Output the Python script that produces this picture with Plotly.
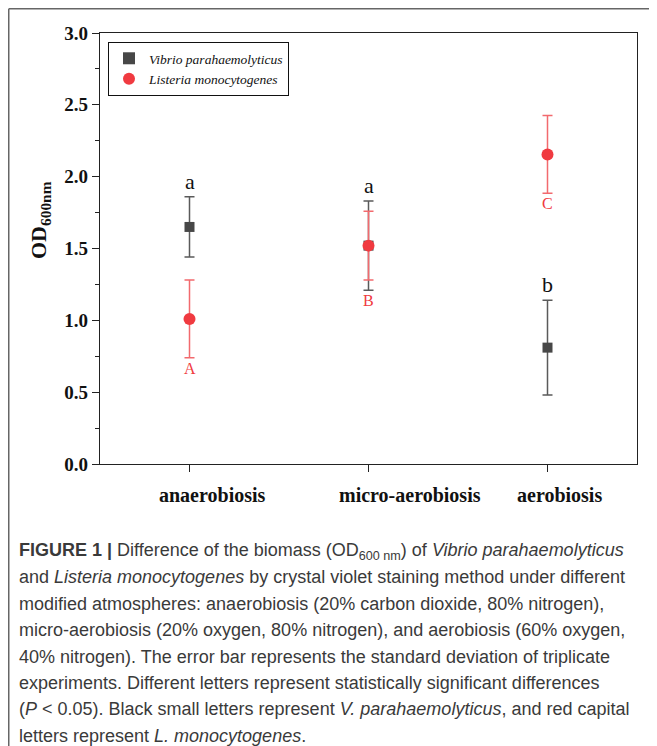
import plotly.graph_objects as go

categories = ["anaerobiosis", "micro-aerobiosis", "aerobiosis"]
vibrio_mean = [1.65, 1.52, 0.81]
vibrio_sd = [0.21, 0.31, 0.33]
listeria_mean = [1.01, 1.52, 2.155]
listeria_sd = [0.27, 0.24, 0.27]
vibrio_letters = ["a", "a", "b"]
listeria_letters = ["A", "B", "C"]
y_ticks = [0.0, 0.5, 1.0, 1.5, 2.0, 2.5, 3.0]

caption_lines = [
    "<b>FIGURE 1 |</b> Difference of the biomass (OD<sub>600 nm</sub>) of <i>Vibrio parahaemolyticus</i>",
    "and <i>Listeria monocytogenes</i> by crystal violet staining method under different",
    "modified atmospheres: anaerobiosis (20% carbon dioxide, 80% nitrogen),",
    "micro-aerobiosis (20% oxygen, 80% nitrogen), and aerobiosis (60% oxygen,",
    "40% nitrogen). The error bar represents the standard deviation of triplicate",
    "experiments. Different letters represent statistically significant differences",
    "(<i>P</i> < 0.05). Black small letters represent <i>V. parahaemolyticus</i>, and red capital",
    "letters represent <i>L. monocytogenes</i>.",
]

OFF = 8  # browser body margin
W, H = 657 - OFF, 746 - OFF
L, R, T, B = 100 - OFF, 637 - OFF, 33 - OFF, 464 - OFF

def px(x):
    return (x - OFF - L) / (R - L)

def py(y):
    return (B - (y - OFF)) / (B - T)

xs = list(range(len(categories)))
GRAY = "#474747"
RED = "#f03a40"
SERIF = "Liberation Serif"

fig = go.Figure()
fig.add_trace(go.Scatter(
    x=xs, y=vibrio_mean, mode="markers", name="<i>Vibrio parahaemolyticus</i>",
    marker=dict(symbol="square", size=10, color=GRAY),
    error_y=dict(type="data", array=vibrio_sd, color="#5a5a5a", thickness=1.5, width=5),
))
fig.add_trace(go.Scatter(
    x=xs, y=listeria_mean, mode="markers", name="<i>Listeria monocytogenes</i>",
    marker=dict(symbol="circle", size=12, color=RED),
    error_y=dict(type="data", array=listeria_sd, color="#f26a6e", thickness=1.5, width=5),
))

annotations = []
for i, (m, s, t) in enumerate(zip(vibrio_mean, vibrio_sd, vibrio_letters)):
    annotations.append(dict(x=i, y=m + s, xref="x", yref="y", text=t, showarrow=False,
                            yanchor="bottom", yshift=1,
                            font=dict(family=SERIF, size=22, color="#111")))
for i, (m, s, t) in enumerate(zip(listeria_mean, listeria_sd, listeria_letters)):
    low = m - s
    v_low = vibrio_mean[i] - vibrio_sd[i]
    v_high = vibrio_mean[i] + vibrio_sd[i]
    if v_low < low < v_high:
        low = v_low  # letter goes below the overlapping black bar
    annotations.append(dict(x=i, y=low, xref="x", yref="y", text=t, showarrow=False,
                            yanchor="top", yshift=0,
                            font=dict(family=SERIF, size=16, color=RED)))

# category labels (in the original they sit slightly right of the ticks)
label_shift = [23, 41, 12]
for i, c in enumerate(categories):
    annotations.append(dict(x=i, y=0, xref="x", yref="paper", text="<b>%s</b>" % c,
                            showarrow=False, yanchor="top", yshift=-18, xshift=label_shift[i],
                            font=dict(family=SERIF, size=20, color="#111")))

annotations.append(dict(x=px(40), y=py(220), xref="paper", yref="paper",
                        xanchor="center", yanchor="middle",
                        text="<b>OD<sub>600nm</sub></b>", textangle=-90, showarrow=False,
                        font=dict(family=SERIF, size=22, color="#111")))

y0 = 551
for k, line in enumerate(caption_lines):
    annotations.append(dict(x=px(17), y=py(y0 + k * 26.4), xref="paper", yref="paper",
                            text=line, showarrow=False, xanchor="left", yanchor="middle",
                            font=dict(family="Liberation Sans", size=18, color="#3a3a3a")))

shapes = [
    dict(type="line", xref="paper", yref="paper", x0=px(8.75), x1=px(670), y0=py(8.75), y1=py(8.75),
         line=dict(color="#666", width=1.5)),
    dict(type="line", xref="paper", yref="paper", x0=px(8.75), x1=px(8.75), y0=py(8.75), y1=py(760),
         line=dict(color="#666", width=1.5)),
]

fig.update_layout(
    width=W, height=H,
    margin=dict(l=L, r=W - R, t=T, b=H - B),
    plot_bgcolor="white", paper_bgcolor="white",
    showlegend=True,
    legend=dict(x=px(108), y=py(42), xanchor="left", yanchor="top",
                bordercolor="#111", borderwidth=1, bgcolor="white",
                font=dict(family=SERIF, size=13.5, color="#111"),
                tracegroupgap=0, itemsizing="constant", itemwidth=30),
    annotations=annotations,
    shapes=shapes,
    xaxis=dict(range=[-0.5, 2.5], tickvals=xs, showticklabels=False,
               ticks="outside", ticklen=7, tickcolor="#222", tickwidth=1.2,
               showline=True, linecolor="#222", linewidth=1.2, mirror=True,
               showgrid=False, zeroline=False),
    yaxis=dict(range=[0, 3], tickvals=y_ticks,
               ticktext=["<b>%.1f</b>" % v for v in y_ticks],
               tickfont=dict(family=SERIF, size=19, color="#111"),
               ticks="outside", ticklen=7, tickcolor="#222", tickwidth=1.2,
               minor=dict(ticks="outside", dtick=0.25, ticklen=4, tickcolor="#222", tickwidth=1),
               showline=True, linecolor="#222", linewidth=1.2, mirror=True,
               showgrid=False, zeroline=False),
)

fig.write_html("out.html")
